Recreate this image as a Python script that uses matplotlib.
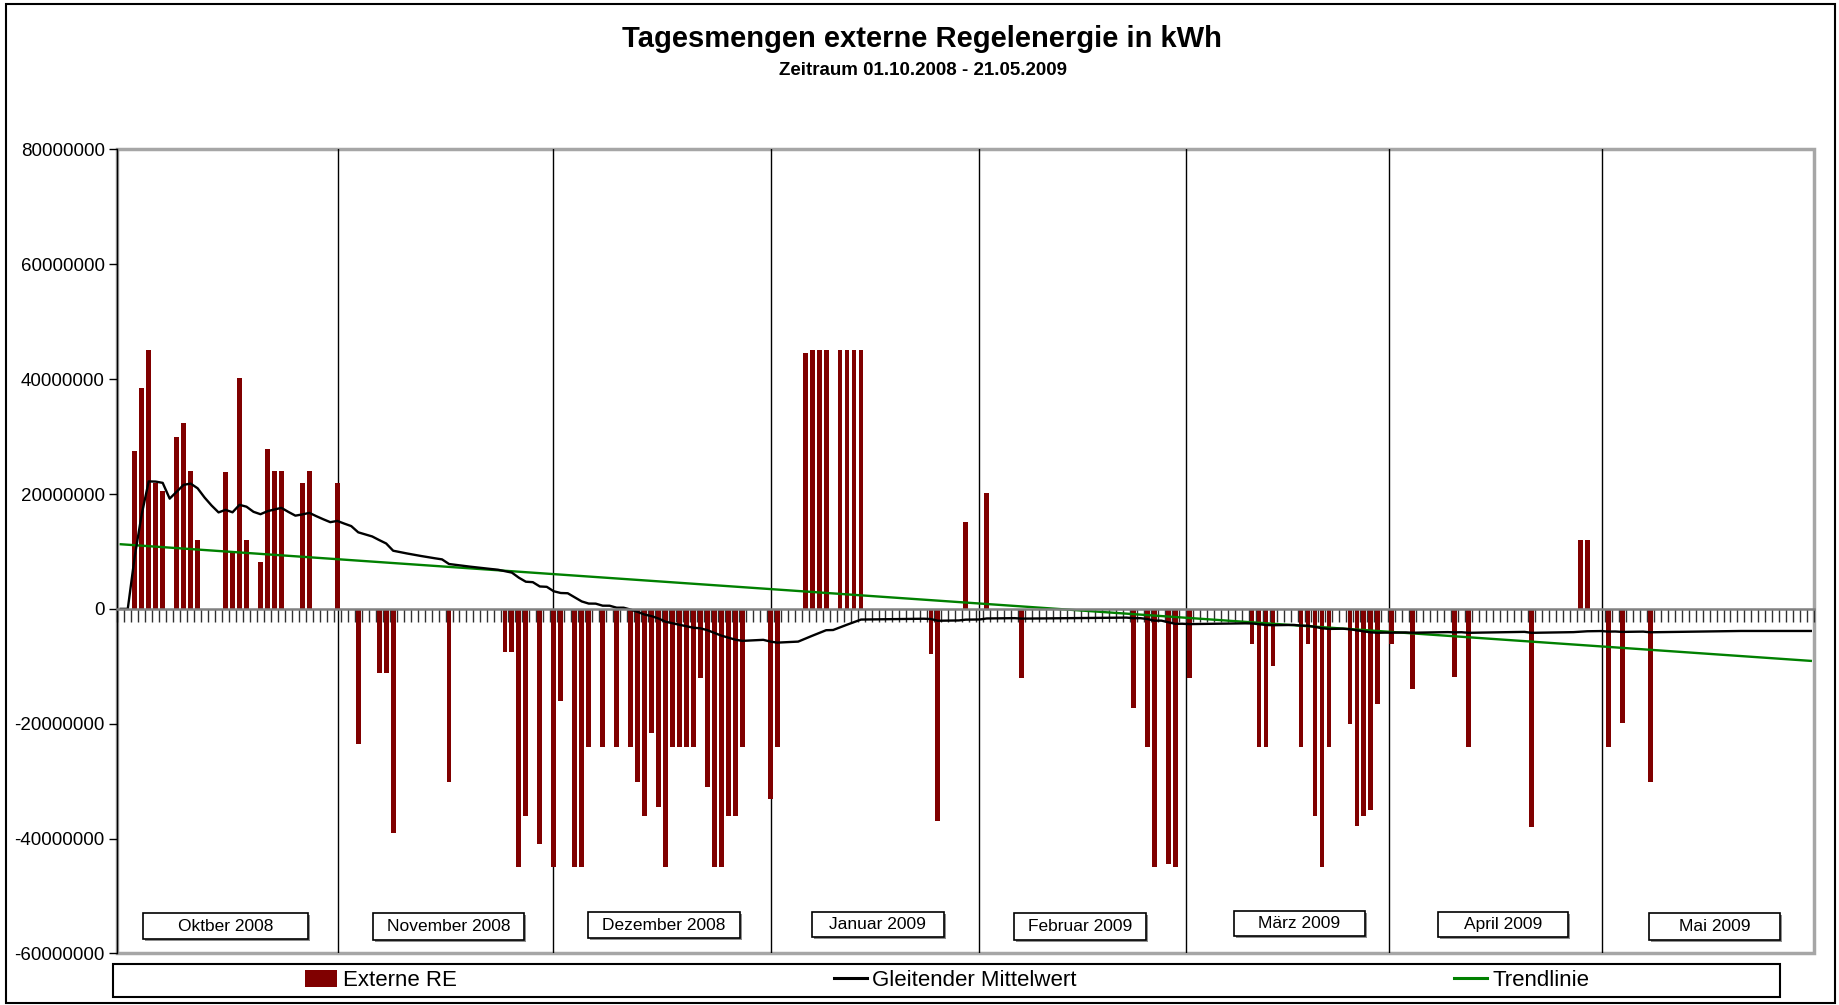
import numpy as np
import pandas as pd
import matplotlib
matplotlib.use('Agg')
import matplotlib.pyplot as plt
from matplotlib.patches import Rectangle, Patch
from matplotlib.lines import Line2D

plt.rcParams['font.family'] = ['Liberation Sans', 'DejaVu Sans']

# ---------------- data ----------------
n_axis_days = 243   # category axis 01.10.2008 .. 31.05.2009
n_data_days = 233   # data 01.10.2008 .. 21.05.2009

# day index (0 = 01.10.2008) and daily amount in kWh (millions)
okt_days = [2, 3, 4, 5, 6, 8, 9, 10, 11, 15, 16, 17, 18, 20, 21, 22, 23, 26, 27]
okt_vals = [27.5, 38.5, 45, 22, 20.6, 30, 32.4, 24, 12, 23.9, 10, 40.2, 12, 8.1, 27.9, 24, 24, 22, 24]
nov_days = [31, 34, 37, 38, 39, 47, 55, 56, 57, 58, 60]
nov_vals = [22, -23.5, -11.2, -11.2, -39.1, -30.1, -7.5, -7.5, -45, -36, -41]
dez_days = [62, 63, 65, 66, 67, 69, 71, 73, 74, 75, 76, 77, 78, 79, 80, 81, 82, 83, 84, 85, 86, 87, 88, 89]
dez_vals = [-45, -16.1, -45, -45, -24, -24, -24, -24, -30.1, -36, -21.7, -34.5, -45, -24, -24, -24, -24,
            -12, -31.1, -45, -45, -36, -36, -24]
jan_days = [93, 94, 98, 99, 100, 101, 103, 104, 105, 106, 116, 117, 121]
jan_vals = [-33.1, -24, 44.6, 45, 45, 45, 45, 45, 45, 45, -7.9, -37, 15.1]
feb_days = [124, 129, 145, 147, 148, 150, 151, 153]
feb_vals = [20.1, -12, -17.2, -24, -45, -44.5, -45, -12]
mar_days = [162, 163, 164, 165, 169, 170, 171, 172, 173, 176, 177, 178, 179, 180]
mar_vals = [-6.1, -24, -24, -10, -24, -6.1, -36, -45, -24, -20, -37.8, -36, -35, -16.6]
apr_days = [182, 185, 191, 193, 202, 209, 210]
apr_vals = [-6.1, -14, -11.8, -24, -38, 12, 12]
mai_days = [213, 215, 219]
mai_vals = [-24, -19.8, -30.1]

month_labels = ['Oktber 2008', 'November 2008', 'Dezember 2008', 'Januar 2009',
                'Februar 2009', 'März 2009', 'April 2009', 'Mai 2009']
y_ticks = [80000000, 60000000, 40000000, 20000000, 0, -20000000, -40000000, -60000000]

# ---------------- series ----------------
daily = np.zeros(n_data_days)
for d, v in [(okt_days, okt_vals), (nov_days, nov_vals), (dez_days, dez_vals), (jan_days, jan_vals),
             (feb_days, feb_vals), (mar_days, mar_vals), (apr_days, apr_vals), (mai_days, mai_vals)]:
    daily[np.array(d)] = np.array(v) * 1e6

idx_data = np.arange(n_data_days)
idx_axis = np.arange(n_axis_days)
# Gleitender Mittelwert: running mean of the daily amounts
moving = pd.Series(daily).expanding().mean().reindex(idx_axis).ffill().values
# Trendlinie: linear trend of the running mean
coef = np.polyfit(idx_axis, moving, 1)
trend = np.polyval(coef, idx_axis)

# ---------------- figure ----------------
W, H = 1839, 1005
fig = plt.figure(figsize=(W / 100, H / 100), dpi=100, facecolor='white')

left_px, right_px, top_px, bot_px = 117.3, 1814.3, 149.5, 953.4
ax = fig.add_axes([left_px / W, 1 - bot_px / H, (right_px - left_px) / W, (bot_px - top_px) / H])

# month separator lines (drawn shapes in original)
month_line_x = [31.07, 61.93, 93.14, 122.88, 152.52, 181.63, 212.13]
for mx in month_line_x:
    ax.axvline(mx, color='black', lw=1.0, zorder=1)

ax.bar(idx_data, daily, width=0.68, color='#800000', zorder=2)
ax.plot(idx_axis, moving, color='black', lw=1.7, zorder=4)
ax.plot(idx_axis, trend, color='#008000', lw=1.7, zorder=3)

ax.set_xlim(-0.5, n_axis_days - 0.5)
ax.set_ylim(-60e6, 80e6)

# spines
for s in ['top', 'right']:
    ax.spines[s].set_visible(False)
ax.spines['left'].set_color('black')
ax.spines['left'].set_linewidth(1.0)
ax.spines['bottom'].set_position(('data', 0))
ax.spines['bottom'].set_color('#808080')
ax.spines['bottom'].set_linewidth(1.8)
ax.spines['bottom'].set_zorder(5)
ax.add_patch(Rectangle((0, 0), 1, 1, transform=ax.transAxes, fill=False,
                       ec='#a6a6a6', lw=2.5, clip_on=False, zorder=0))

ax.set_xticks(np.arange(-0.5, n_axis_days, 1.0))
ax.set_xticklabels([])
ax.tick_params(axis='x', direction='out', length=9, width=1, color='#303030')
ax.set_yticks(y_ticks)
ax.set_yticklabels([str(v) for v in y_ticks], fontsize=13.5)
ax.tick_params(axis='y', direction='out', length=6, width=1, pad=3)

# month label boxes (figure pixel coordinates)
month_boxes = [(143, 308, 912.7, 939.3), (373, 524, 913, 940), (587.5, 740, 911.7, 938.3),
               (811.5, 944, 911.7, 937.3), (1014, 1146, 913.3, 940), (1234, 1365, 910.7, 935.7),
               (1438, 1568, 911.7, 937.3), (1649, 1780, 912.7, 940)]
for lab, (x0, x1, y0, y1) in zip(month_labels, month_boxes):
    fig.add_artist(Rectangle(((x0 + 2) / W, 1 - (y1 + 2) / H), (x1 - x0) / W, (y1 - y0) / H,
                             transform=fig.transFigure, fc='#909090', ec='none', zorder=5))
    fig.add_artist(Rectangle((x0 / W, 1 - y1 / H), (x1 - x0) / W, (y1 - y0) / H,
                             transform=fig.transFigure, fc='white', ec='black', lw=1.2, zorder=6))
    fig.text((x0 + x1) / 2 / W, 1 - (y0 + y1) / 2 / H, lab, ha='center', va='center',
             fontsize=12.5, zorder=7)

# titles
fig.text(922.4 / W, 1 - 38.7 / H, 'Tagesmengen externe Regelenergie in kWh',
         ha='center', va='center', fontsize=21, fontweight='bold')
fig.text(923 / W, 1 - 70.4 / H, 'Zeitraum 01.10.2008 - 21.05.2009',
         ha='center', va='center', fontsize=13.5, fontweight='bold')

# legend box
fig.add_artist(Rectangle((112.6 / W, 1 - 996.7 / H), (1780 - 112.6) / W, (996.7 - 964) / H,
                         transform=fig.transFigure, fill=False, ec='black', lw=1.5))
handles = [Patch(facecolor='#800000', edgecolor='none'),
           Line2D([], [], color='black', lw=2.2),
           Line2D([], [], color='#008000', lw=2.2)]
fig.legend(handles, ['Externe RE', 'Gleitender Mittelwert', 'Trendlinie'],
           loc='center left', bbox_to_anchor=(305 / W, 1 - 980.5 / H), ncol=3,
           frameon=False, fontsize=16, handlelength=1.45, handleheight=0.8,
           handletextpad=0.25, columnspacing=17.0, borderpad=0, borderaxespad=0)

# outer chart frame
fig.add_artist(Rectangle((6 / W, 1 - 1003 / H), (1835 - 6) / W, (1003 - 4) / H,
                         transform=fig.transFigure, fill=False, ec='black', lw=1.5))

fig.savefig('out.png', dpi=100, facecolor='white')
